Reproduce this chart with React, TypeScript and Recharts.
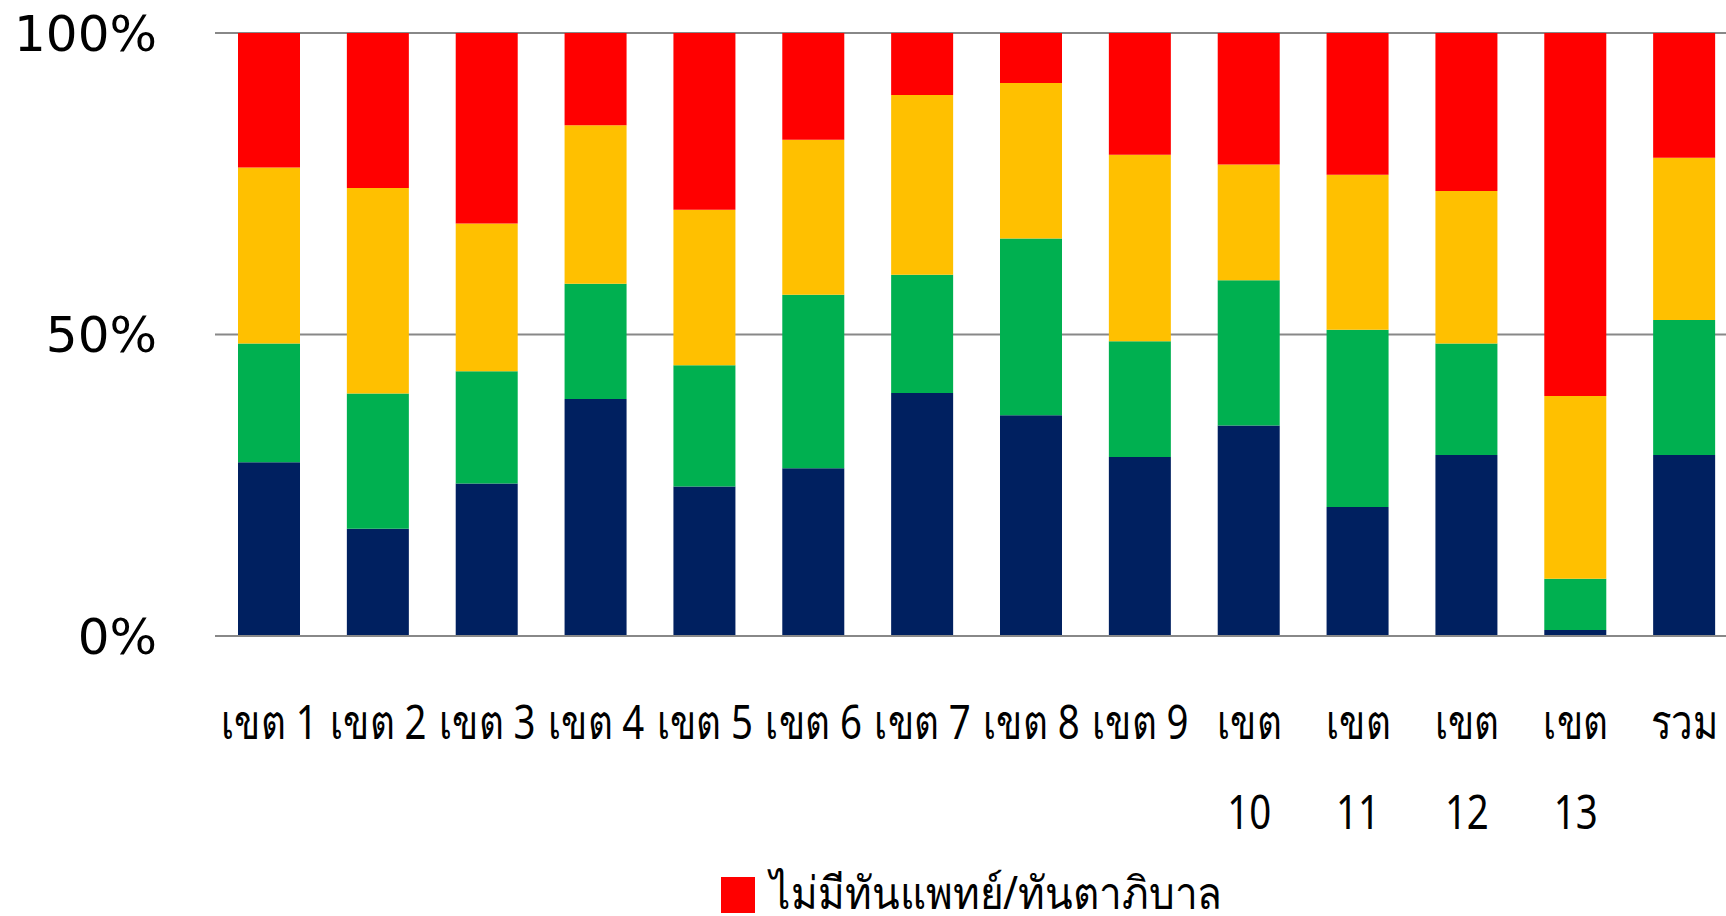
import React from "react";
import { BarChart, Bar, XAxis, YAxis, CartesianGrid, Legend } from "recharts";

const regions = [
    "เขต 1", "เขต 2", "เขต 3", "เขต 4", "เขต 5", "เขต 6", "เขต 7",
    "เขต 8", "เขต 9", "เขต 10", "เขต 11", "เขต 12", "เขต 13", "รวม",
];

// percent of each group, bottom to top
const bothStaff = [28.8, 17.8, 25.3, 39.3, 24.8, 27.8, 40.3, 36.6, 29.7, 34.9, 21.4, 30.0, 1.0, 30.0];
const dentistOnly = [19.7, 22.4, 18.6, 19.1, 20.1, 28.8, 19.6, 29.3, 19.2, 24.1, 29.4, 18.5, 8.5, 22.4];
const hygienistOnly = [29.2, 34.1, 24.5, 26.3, 25.8, 25.7, 29.8, 25.8, 30.9, 19.2, 25.7, 25.3, 30.3, 26.9];
const noStaff = [22.3, 25.7, 31.6, 15.3, 29.3, 17.7, 10.3, 8.3, 20.2, 21.8, 23.5, 26.2, 60.2, 20.7];

const seriesNames = [
    "มีทันตแพทย์และทันตาภิบาล",
    "มีทันตแพทย์",
    "มีทันตาภิบาล",
    "ไม่มีทันแพทย์/ทันตาภิบาล",
];
const yTicks = [0, 0.5, 1];

const chartData = regions.map((r, i) => ({
    region: r,
    both: bothStaff[i],
    dentist: dentistOnly[i],
    hygienist: hygienistOnly[i],
    none: noStaff[i],
}));

const labelFont = "'Liberation Sans Narrow', 'Noto Sans', sans-serif";

function RegionTick({ x, y, payload }: any) {
    const txt: string = payload.value;
    // long labels wrap onto a second line like the original
    const lines = txt.length > 5 ? txt.split(" ") : [txt];
    return (
        <g transform={`translate(${x},${y}) scale(0.8,1)`}>
            <text x={0} y={0} textAnchor="middle" fill="#000" fontSize={48} fontFamily={labelFont}>
                {lines.map((l, i) => (
                    <tspan key={i} x={0} dy={i === 0 ? 101 : 90}>
                        {l}
                    </tspan>
                ))}
            </text>
        </g>
    );
}

function TopLegend() {
    return (
        <div style={{ height: 50, position: "relative" }}>
            <span
                style={{ position: "absolute", left: 721, top: 11, width: 34, height: 36, background: "#FF0000" }}
            />
            <span
                style={{
                    position: "absolute",
                    left: 770,
                    top: 6,
                    fontSize: 45,
                    fontFamily: labelFont,
                    lineHeight: "40px",
                    color: "#000",
                    whiteSpace: "nowrap",
                    transform: "scaleX(0.9)",
                    transformOrigin: "left center",
                }}
            >
                {seriesNames[3]}
            </span>
        </div>
    );
}

export default function App() {
    return (
        <div style={{ position: "fixed", left: 0, top: 0, width: 1726, height: 916, overflow: "hidden", background: "#fff" }}>
            <BarChart
                width={1749}
                height={916}
                data={chartData}
                stackOffset="expand"
                barSize={62}
                margin={{ top: 33, right: 10, left: 0, bottom: 0 }}
            >
                <CartesianGrid vertical={false} stroke="#888" strokeWidth={2} />
                <XAxis
                    dataKey="region"
                    interval={0}
                    height={230}
                    tickLine={false}
                    tickSize={0}
                    axisLine={{ stroke: "#888", strokeWidth: 2 }}
                    tick={<RegionTick />}
                />
                <YAxis
                    width={215}
                    ticks={yTicks}
                    domain={[0, 1]}
                    axisLine={false}
                    tickLine={false}
                    tickSize={0}
                    tickMargin={58}
                    tickFormatter={(v) => `${Math.round(v * 100)}%`}
                    tick={{ fill: "#000", fontSize: 50, fontFamily: "'DejaVu Sans', sans-serif" }}
                />
                <Legend verticalAlign="bottom" content={<TopLegend />} />
                <Bar dataKey="both" name={seriesNames[0]} stackId="a" fill="#002060" isAnimationActive={false} />
                <Bar dataKey="dentist" name={seriesNames[1]} stackId="a" fill="#00B050" isAnimationActive={false} />
                <Bar dataKey="hygienist" name={seriesNames[2]} stackId="a" fill="#FFC000" isAnimationActive={false} />
                <Bar dataKey="none" name={seriesNames[3]} stackId="a" fill="#FF0000" isAnimationActive={false} />
            </BarChart>
        </div>
    );
}
